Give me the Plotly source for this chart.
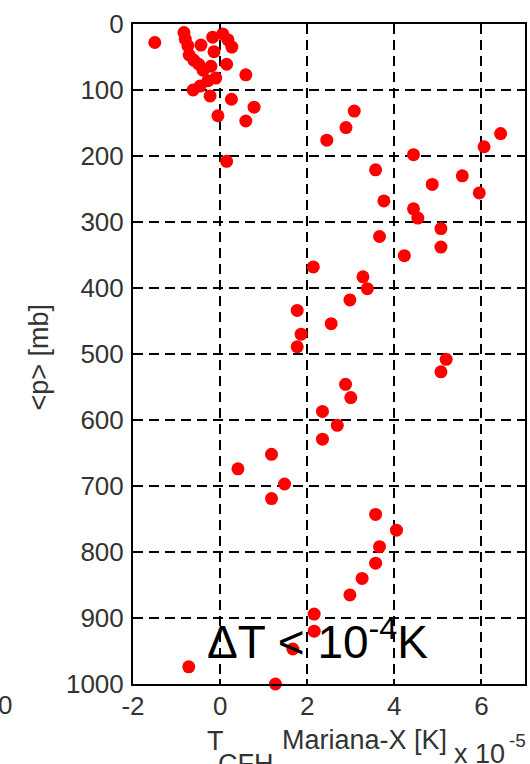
import plotly.graph_objects as go

# Temperature difference CFH minus Mariana-X (in units of 1e-5 K) versus mean pressure (mb)
dt_cfh_mariana = [
    -1.50, -0.83, -0.80, -0.74, -0.44, -0.17, 0.06, 0.18, 0.27, -0.14,
    0.15, -0.71, -0.60, -0.49, -0.39, -0.21, 0.59, -0.62, -0.46, -0.28,
    -0.10, -0.23, 0.26, 0.78, -0.05, 0.59, 0.15,
    3.08, 2.89, 2.45, 6.44, 6.06, 4.44, 3.57, 5.56, 4.87, 5.95,
    3.76, 4.44, 4.54, 5.07, 3.66, 5.07, 4.23, 2.14, 3.28, 3.38,
    2.98, 1.77, 2.55, 1.86, 1.77, 5.19, 5.07, 2.88, 3.00, 2.35,
    2.69, 2.35, 1.18, 0.41, 1.48, 1.18, 3.57, 4.05, 3.66, 3.57,
    3.26, 2.98, 2.16, 2.16, 1.67, -0.72, 1.27,
]
pressure_mb = [
    28, 13, 23, 33, 32, 20, 15, 24, 35, 42,
    61, 47, 55, 61, 70, 64, 77, 100, 94, 86,
    82, 109, 114, 126, 139, 147, 208,
    132, 157, 176, 166, 186, 198, 221, 230, 243, 256,
    268, 280, 294, 310, 322, 338, 351, 368, 383, 401,
    418, 434, 454, 470, 489, 508, 527, 546, 566, 587,
    608, 629, 652, 674, 697, 719, 743, 767, 792, 817,
    840, 865, 894, 920, 947, 974, 1000,
]

x_ticks = [-2, 0, 2, 4, 6]
y_ticks = [0, 100, 200, 300, 400, 500, 600, 700, 800, 900, 1000]

W, H = 530, 764
L, R, T, B = 133, 3, 24, 80
PW, PH = W - L - R, H - T - B

FONT = "Liberation Sans, Arial, Helvetica, sans-serif"
TXT = "#333333"


def fx(px):
    """Page pixel column -> paper x."""
    return (px - L) / PW


def fy(py):
    """Page pixel row -> paper y."""
    return (H - B - py) / PH


fig = go.Figure(
    go.Scatter(
        x=dt_cfh_mariana,
        y=pressure_mb,
        mode="markers",
        marker=dict(color="#ff0000", size=13, line=dict(width=0)),
        cliponaxis=False,
        showlegend=False,
    )
)

axis_common = dict(
    showline=True,
    linecolor="black",
    linewidth=2,
    mirror="ticks",
    ticks="inside",
    ticklen=5,
    tickwidth=1.5,
    tickcolor="black",
    showgrid=True,
    gridcolor="black",
    gridwidth=1.5,
    griddash="10px,6px",
    zeroline=False,
    tickfont=dict(family=FONT, size=26, color=TXT),
)

fig.update_xaxes(range=[-2, 7], tickvals=x_ticks, ticktext=[str(v) for v in x_ticks],
                 ticklabelstandoff=-2, **axis_common)
fig.update_yaxes(range=[1000, 0], tickvals=y_ticks, ticktext=[str(v) for v in y_ticks],
                 ticklabelstandoff=2, **axis_common)

ann = []


def label(text, px, py, size, xanchor="center", color=TXT, angle=0):
    ann.append(dict(
        text=text, x=fx(px), y=fy(py), xref="paper", yref="paper",
        xanchor=xanchor, yanchor="middle", showarrow=False, textangle=angle,
        font=dict(family=FONT, size=size, color=color),
    ))


# axis titles
label("&lt;p&gt; [mb]", 39, 357, 27, angle=-90)
label("T", 216, 741, 27)
label("CFH", 216, 764, 27, xanchor="left")
label("Mariana-X [K]", 281, 740, 27, xanchor="left")
label("x 10", 454, 754, 27, xanchor="left")
label("-5", 509, 740, 19, xanchor="left")

# in-plot statement
label("ΔT &lt; 10<sup>-4</sup>K", 318, 639, 46, color="black")

# edge of a neighbouring panel's tick label
label("0", 4, 705, 26)

fig.update_layout(
    width=W,
    height=H,
    margin=dict(l=L, r=R, t=T, b=B),
    paper_bgcolor="white",
    plot_bgcolor="white",
    annotations=ann,
)

fig.write_html("out.html")
